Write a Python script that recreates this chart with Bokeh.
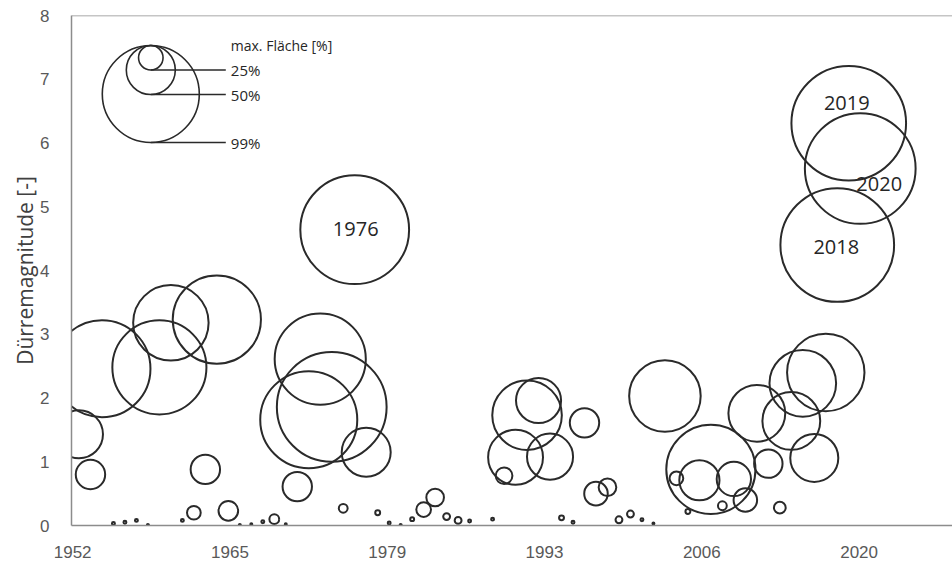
from bokeh.plotting import figure
from bokeh.models import ColumnDataSource, FixedTicker, Span, Label
from bokeh.core.properties import value
from bokeh.embed import file_html
from bokeh.resources import INLINE

# ---- data ----
years = [1952, 1953, 1954, 1955, 1956, 1957, 1958, 1959, 1960, 1961,
         1962, 1963, 1964, 1965, 1966, 1967, 1968, 1969, 1970, 1971,
         1972, 1973, 1974, 1975, 1976, 1977, 1978, 1979, 1980, 1981,
         1982, 1983, 1984, 1985, 1986, 1988, 1989, 1990, 1991, 1992,
         1993, 1994, 1995, 1996, 1997, 1998, 1999, 2000, 2001, 2002,
         2003, 2004, 2005, 2006, 2007, 2008, 2009, 2010, 2011, 2012,
         2013, 2014, 2015, 2016, 2017, 2018, 2019, 2020]
magnitude = [1.43, 0.80, 2.46, 0.03, 0.05, 0.08, 0.01, 2.48, 3.18, 0.08,
             0.20, 0.88, 3.23, 0.23, 0.01, 0.02, 0.06, 0.10, 0.02, 0.61,
             1.66, 2.61, 1.86, 0.27, 4.64, 1.15, 0.20, 0.04, 0.01, 0.10,
             0.25, 0.44, 0.14, 0.08, 0.07, 0.10, 0.78, 1.07, 1.73, 1.96,
             1.08, 0.12, 0.05, 1.61, 0.50, 0.60, 0.09, 0.18, 0.09, 0.03,
             2.03, 0.74, 0.22, 0.71, 0.88, 0.31, 0.73, 0.40, 1.76, 0.97,
             0.28, 1.64, 2.23, 1.06, 2.40, 4.40, 6.31, 5.60]
max_area = [49, 30, 99, 3, 3, 3, 2, 96, 77, 3,
            14, 30, 90, 20, 2, 2, 3, 10, 2, 30,
            99, 93, 112, 9, 111, 50, 5, 3, 2, 4,
            15, 18, 7, 7, 3, 3, 17, 56, 71, 46,
            47, 5, 3, 30, 24, 18, 7, 7, 3, 2,
            73, 14, 5, 41, 91, 9, 35, 24, 58, 29,
            12, 59, 68, 49, 79, 116, 117, 113]

labelled_years = [1976, 2018, 2019, 2020]
label_dx = [1, -1, -2, 19]      # px offset of the year label from the bubble centre
label_dy = [1, -2, 20, -15]

x_ticks = [1952.0, 1965.69, 1979.38, 1993.07, 2006.76, 2020.45]
x_tick_labels = ["1952", "1965", "1979", "1993", "2006", "2020"]
y_ticks = [0, 1, 2, 3, 4, 5, 6, 7, 8]

legend_pct = [99, 50, 25]
legend_labels = ["99%", "50%", "25%"]
legend_title = "max. Fläche [%]"

# ---- layout ----
FRAME_W, FRAME_H = 881, 510
X0, X1 = 1951.9, 2028.58
Y0, Y1 = 0, 8
PX_PER_PCT = 0.98
YEAR_SHIFT = 0.55
px_x = FRAME_W / (X1 - X0)
px_y = FRAME_H / (Y1 - Y0)

AXIS_GRAY = "#8c8c8c"
LINE = "#2a2a2a"

p = figure(frame_width=FRAME_W, frame_height=FRAME_H,
           x_range=(X0, X1), y_range=(Y0, Y1),
           output_backend="svg", toolbar_location=None,
           min_border_left=71, min_border_right=0,
           min_border_top=15, min_border_bottom=32)
p.outline_line_color = None
p.grid.visible = False
p.background_fill_color = "white"

src = ColumnDataSource(dict(
    x=[y + YEAR_SHIFT for y in years],
    y=magnitude,
    s=[a * PX_PER_PCT for a in max_area],
))
p.scatter("x", "y", size="s", source=src, fill_color=None,
          line_color=LINE, line_width=2)

for yr, dx, dy in zip(labelled_years, label_dx, label_dy):
    i = years.index(yr)
    p.add_layout(Label(x=yr + YEAR_SHIFT, y=magnitude[i], text=str(yr),
                       x_offset=dx, y_offset=dy,
                       text_align="center", text_baseline="middle",
                       text_font="Open Sans", text_font_size="20px",
                       text_color="#262626"))

# legend (size key) in the upper left
leg_cx = X0 + (150 - 70.7) / px_x
leg_top = Y1 - (45 - 15) / px_y
leg_line_end = X0 + (225 - 70.7) / px_x
leg_text_x = X0 + (230 - 70.7) / px_x
leg_d = [pct * PX_PER_PCT for pct in legend_pct]
leg_src = ColumnDataSource(dict(
    x=[leg_cx] * len(legend_pct),
    y=[leg_top - (d / 2) / px_y for d in leg_d],
    s=leg_d,
))
p.scatter("x", "y", size="s", source=leg_src, fill_color=None,
          line_color=LINE, line_width=1.6)
for d, lab in zip(leg_d, legend_labels):
    yb = leg_top - d / px_y
    p.line([leg_cx, leg_line_end], [yb, yb], line_color=LINE, line_width=1.5)
    p.add_layout(Label(x=leg_text_x, y=yb, text=lab, text_align="left",
                       text_baseline="middle", text_font="Open Sans",
                       text_font_size="15px", text_color="#262626"))
p.add_layout(Label(x=leg_text_x, y=leg_top, text=legend_title, text_align="left",
                   text_baseline="middle", text_font="Open Sans",
                   text_font_size="14px", text_color="#262626"))

# top border line
p.add_layout(Span(location=Y1, dimension="width", line_color=AXIS_GRAY, line_width=1.5))

# axes
p.xaxis.ticker = FixedTicker(ticks=x_ticks)
p.xaxis.major_label_overrides = {t: l for t, l in zip(x_ticks, x_tick_labels)}
p.yaxis.ticker = FixedTicker(ticks=y_ticks)
for ax in (p.xaxis, p.yaxis):
    ax.axis_line_color = AXIS_GRAY
    ax.axis_line_width = 1.5
    ax.major_tick_line_color = None
    ax.minor_tick_line_color = None
    ax.major_label_text_font = "Liberation Sans"
    ax.major_label_text_font_size = "17px"
    ax.major_label_text_color = "#595959"
p.xaxis.major_label_standoff = 14
p.yaxis.major_label_standoff = 16
p.yaxis.axis_label = "Dürremagnitude [-]"
p.yaxis.axis_label_text_font = "Open Sans"
p.yaxis.axis_label_text_font_size = "21px"
p.yaxis.axis_label_text_font_style = "normal"
p.yaxis.axis_label_text_color = "#404040"
p.yaxis.axis_label_standoff = -2

open("out.html", "w").write(file_html(p, INLINE))
